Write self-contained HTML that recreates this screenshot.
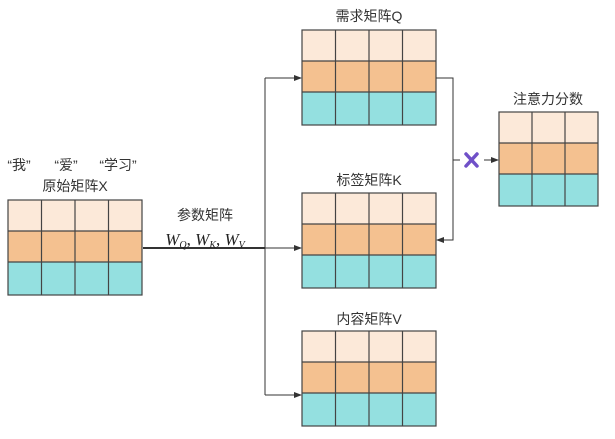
<!DOCTYPE html>
<html><head><meta charset="utf-8"><style>body{margin:0;background:#fff}</style></head><body>
<svg width="615" height="434" xmlns="http://www.w3.org/2000/svg" font-family="Liberation Sans, Noto Sans CJK SC, sans-serif">
<defs>
<marker id="a" markerWidth="8" markerHeight="8" refX="7" refY="4" orient="auto" markerUnits="userSpaceOnUse"><path d="M0,1 L8,4 L0,7 Z" fill="#333"/></marker>
<g id="m4">
<rect x="0" y="0" width="134" height="31" fill="#fce9d9"/>
<rect x="0" y="31" width="134" height="31" fill="#f4c190"/>
<rect x="0" y="62" width="134" height="33" fill="#94e0e0"/>
<g stroke="#444" stroke-width="1.2" fill="none">
<rect x="0" y="0" width="134" height="95"/>
<line x1="0" y1="31" x2="134" y2="31"/><line x1="0" y1="62" x2="134" y2="62"/>
<line x1="33.5" y1="0" x2="33.5" y2="95"/><line x1="67" y1="0" x2="67" y2="95"/><line x1="100.5" y1="0" x2="100.5" y2="95"/>
</g></g>
<g id="m3">
<rect x="0" y="0" width="99" height="31" fill="#fce9d9"/>
<rect x="0" y="31" width="99" height="31" fill="#f4c190"/>
<rect x="0" y="62" width="99" height="32" fill="#94e0e0"/>
<g stroke="#444" stroke-width="1.2" fill="none">
<rect x="0" y="0" width="99" height="94"/>
<line x1="0" y1="31" x2="99" y2="31"/><line x1="0" y1="62" x2="99" y2="62"/>
<line x1="33" y1="0" x2="33" y2="94"/><line x1="66" y1="0" x2="66" y2="94"/>
</g></g>
</defs>
<use href="#m4" x="8" y="200"/>
<use href="#m4" x="302" y="30"/>
<use href="#m4" x="302" y="193"/>
<use href="#m4" x="302" y="331"/>
<use href="#m3" x="499" y="112"/>
<g stroke="#333" fill="none">
<line x1="143" y1="248" x2="265" y2="248" stroke-width="2"/>
<line x1="265" y1="78" x2="265" y2="395" stroke-width="1"/>
<line x1="265" y1="78" x2="301" y2="78" marker-end="url(#a)"/>
<line x1="265" y1="248" x2="301" y2="248" marker-end="url(#a)"/>
<line x1="265" y1="395" x2="301" y2="395" marker-end="url(#a)"/>
<polyline points="436,78 453,78 453,240 437,240" marker-end="url(#a)"/>
<line x1="453" y1="160" x2="460" y2="160"/>
<line x1="484" y1="160" x2="498" y2="160" marker-end="url(#a)"/>
</g>
<g stroke="#7050c8" stroke-width="3.5" stroke-linecap="round"><line x1="466" y1="154" x2="477" y2="166"/><line x1="477" y1="154" x2="466" y2="166"/></g>
<g font-size="14" fill="#333" text-anchor="middle">
<text x="369" y="21">需求矩阵Q</text>
<text x="369" y="185">标签矩阵K</text>
<text x="369" y="324">内容矩阵V</text>
<text x="548" y="104">注意力分数</text>
<text x="75" y="191">原始矩阵X</text>
<text x="205" y="220">参数矩阵</text>
<text x="19" y="170">“我”</text><text x="66" y="170">“爱”</text><text x="118" y="170">“学习”</text>
</g>
<text x="205" y="245" font-family="Liberation Serif, serif" font-style="italic" font-size="17" fill="#222" text-anchor="middle">W<tspan font-size="10" dy="3">Q</tspan><tspan dy="-3" font-style="normal">, </tspan>W<tspan font-size="10" dy="3">K</tspan><tspan dy="-3" font-style="normal">, </tspan>W<tspan font-size="10" dy="3">V</tspan></text>
</svg>
</body></html>
